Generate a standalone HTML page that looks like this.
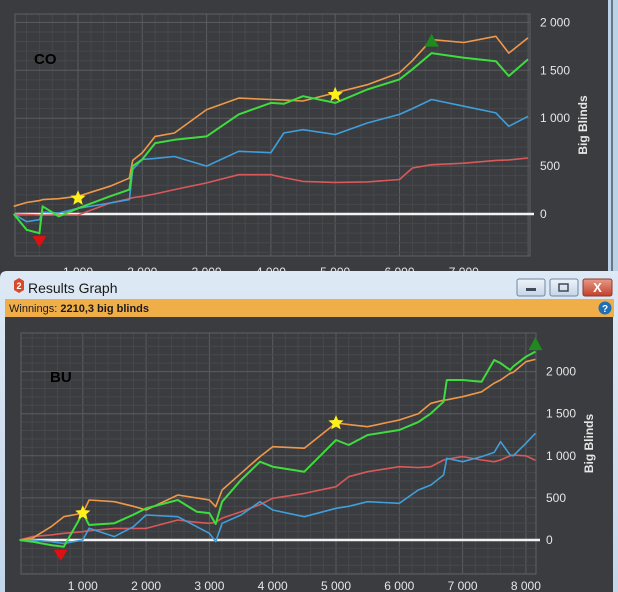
<!DOCTYPE html>
<html><head><meta charset="utf-8"><style>
html,body{margin:0;padding:0;background:#3a3c3f;}
svg{display:block;font-family:"Liberation Sans",sans-serif;}
</style></head><body>
<svg id="s" width="618" height="592" viewBox="0 0 618 592" xmlns="http://www.w3.org/2000/svg">
<defs>
<linearGradient id="tb" x1="0" y1="0" x2="0" y2="1"><stop offset="0" stop-color="#dde9f5"/><stop offset="1" stop-color="#c3d6ea"/></linearGradient>
<linearGradient id="bt" x1="0" y1="0" x2="0" y2="1"><stop offset="0" stop-color="#eef3f9"/><stop offset="1" stop-color="#c7d5e6"/></linearGradient>
<linearGradient id="cl" x1="0" y1="0" x2="0" y2="1"><stop offset="0" stop-color="#e89a88"/><stop offset="1" stop-color="#c2402c"/></linearGradient>
</defs>
<rect x="0" y="0" width="618" height="592" fill="#3a3c3f"/>
<rect x="608" y="0" width="10" height="272" fill="#b9d2ea"/>
<line x1="612" y1="0" x2="612" y2="272" stroke="#1a1a1a" stroke-width="1"/>
<g id="top"></g>
<g>
<path d="M0,278 Q0,271 7,271 L618,271 L618,592 L0,592 Z" fill="url(#tb)"/>
<rect x="5" y="317" width="608" height="275" fill="#3a3c3f"/>
<polygon points="14,281 19,278 24,281 24,290 19,293 14,290" fill="#d9482a"/>
<text x="19" y="289" font-size="9" font-weight="bold" fill="#fff" text-anchor="middle">2</text>
<text x="28" y="293" font-size="14" fill="#1a1a1a">Results Graph</text>
<g><rect x="517" y="279" width="28" height="17" rx="2" fill="url(#bt)" stroke="#6f86a3"/><rect x="526" y="288" width="10" height="3" fill="#3d4a5c"/></g>
<g><rect x="550" y="279" width="28" height="17" rx="2" fill="url(#bt)" stroke="#6f86a3"/><rect x="559" y="284" width="9" height="7" fill="none" stroke="#3d4a5c" stroke-width="1.5"/></g>
<g><rect x="583" y="279" width="29" height="17" rx="2" fill="url(#cl)" stroke="#8a3a2e"/><text x="597.5" y="292" font-size="13" font-weight="bold" fill="#fff" text-anchor="middle">X</text></g>
<rect x="5" y="299" width="609" height="18" fill="#f0ae48"/>
<text x="9" y="312" font-size="11" fill="#1a1a1a">Winnings: <tspan font-weight="bold">2210,3 big blinds</tspan></text>
<g><circle cx="605" cy="308" r="6.5" fill="#1f6fb8"/><text x="605" y="312" font-size="10" font-weight="bold" fill="#fff" text-anchor="middle">?</text></g>
</g>
<g id="bot"></g>
</svg>
<script>
// ---- CO chart data ----
const coHands = [0,200,400,450,700,1000,1500,1800,1850,2000,2200,2500,3000,3500,4000,4200,4500,5000,5500,6000,6200,6500,7000,7500,7700,8000];
const coOrange = [80,120,140,150,160,185,290,375,560,640,810,845,1090,1210,1195,1190,1180,1265,1350,1475,1600,1820,1790,1855,1680,1840];
const coGreen = [0,-165,-200,80,-25,60,185,255,500,570,740,775,810,1040,1160,1150,1230,1160,1300,1405,1510,1680,1630,1595,1440,1615];
const coBlue = [0,-80,-60,20,10,60,115,150,465,570,580,600,500,655,640,845,880,830,950,1040,1100,1195,1125,1055,915,1020];
const coRed = [0,-5,-10,-10,-10,-10,115,160,170,185,210,255,325,410,410,380,340,330,335,360,480,515,530,560,565,585];
const coTicksY = [0,500,1000,1500,2000];
const coTickLabelsY = ["0","500","1 000","1 500","2 000"];
const coTicksX = [1000,2000,3000,4000,5000,6000,7000];
const coTickLabelsX = ["1 000","2 000","3 000","4 000","5 000","6 000","7 000"];
// ---- BU chart data ----
const buHands = [0,200,500,700,1000,1100,1500,1800,2000,2500,2800,3000,3100,3200,3500,3800,4000,4500,5000,5200,5500,6000,6300,6500,6700,6750,7000,7300,7500,7600,7750,7800,8000,8150];
const buOrange = [0,20,158,277,320,475,455,400,356,535,500,475,396,594,792,990,1108,1090,1390,1370,1346,1425,1500,1623,1660,1665,1702,1760,1863,1900,1980,1990,2118,2145];
const buGreen = [0,-20,-60,-80,320,178,200,300,376,475,336,320,190,455,713,930,871,811,1188,1128,1247,1306,1400,1504,1643,1900,1900,1880,2138,2100,2019,2060,2177,2237];
const buBlue = [0,0,-20,-40,0,140,40,158,297,277,158,79,-20,198,297,455,356,277,376,400,455,436,594,653,772,970,930,990,1040,1168,1010,1000,1148,1267];
const buRed = [0,40,60,80,99,110,138,138,138,237,210,198,210,260,336,420,495,554,633,752,811,871,860,871,950,960,990,950,930,950,1000,1010,1000,946];
const buTicksY = [0,500,1000,1500,2000];
const buTickLabelsY = ["0","500","1 000","1 500","2 000"];
const buTicksX = [1000,2000,3000,4000,5000,6000,7000,8000];
const buTickLabelsX = ["1 000","2 000","3 000","4 000","5 000","6 000","7 000","8 000"];

const NS="http://www.w3.org/2000/svg";
function mk(parent,tag,attrs){const e=document.createElementNS(NS,tag);for(const k in attrs)e.setAttribute(k,attrs[k]);parent.appendChild(e);return e;}
function star(cx,cy,r){let p=[];for(let i=0;i<10;i++){const a=-Math.PI/2+i*Math.PI/5;const rr=i%2?r*0.45:r;p.push((cx+rr*Math.cos(a)).toFixed(1)+","+(cy+rr*Math.sin(a)).toFixed(1));}return p.join(" ");}
function nearest(h,arr,hands){let b=0;for(let i=0;i<hands.length;i++){if(Math.abs(hands[i]-h)<Math.abs(hands[b]-h))b=i;}return arr[b];}

function chart(g,cfg){
  const sx=h=>cfg.x0+h*cfg.kx, sy=v=>cfg.y0-v*cfg.ky;
  mk(g,'rect',{x:cfg.L,y:cfg.T,width:cfg.R-cfg.L,height:cfg.B-cfg.T,fill:'#3a3c3f'});
  for(let h=0;h<=cfg.maxH;h+=200){const x=sx(h);if(x<cfg.L||x>cfg.R)continue;mk(g,'line',{x1:x,y1:cfg.T,x2:x,y2:cfg.B,stroke:h%1000?'#46484b':'#5a5c60','stroke-width':1});}
  for(let v=-500;v<=2600;v+=100){const y=sy(v);if(y<cfg.T||y>cfg.B)continue;mk(g,'line',{x1:cfg.L,y1:y,x2:cfg.R,y2:y,stroke:v%500?'#46484b':'#5a5c60','stroke-width':1});}
  const fr=mk(g,'rect',{x:cfg.L,y:cfg.T,width:cfg.R-cfg.L,height:cfg.B-cfg.T,fill:'none',stroke:'#5e6064','stroke-width':1});
  
  
  cfg.ticksY.forEach((v,i)=>{const t=mk(g,'text',{x:cfg.R+10,y:sy(v)+4,'font-size':12,fill:'#e6e6e6'});t.textContent=cfg.labelsY[i];
    
    });
  cfg.ticksX.forEach((h,i)=>{const t=mk(g,'text',{x:sx(h),y:cfg.B+cfg.xlDy,'font-size':12,fill:'#e6e6e6','text-anchor':'middle'});t.textContent=cfg.labelsX[i];
    
    });
  const yt=mk(g,'text',{x:cfg.ytX,y:(cfg.T+cfg.B)/2-10,'font-size':12,'font-weight':'bold',fill:'#e6e6e6','text-anchor':'middle',transform:`rotate(-90 ${cfg.ytX} ${(cfg.T+cfg.B)/2-10})`});
  yt.textContent='Big Blinds';
  
  
  const zl=mk(g,'line',{x1:cfg.L,y1:sy(0),x2:cfg.R+4,y2:sy(0),stroke:'#f2f2f2','stroke-width':2.5});
  
  
  const series=[['red-series',cfg.red,'#d9595a'],['blue-series',cfg.blue,'#3f9fdc'],['orange-series',cfg.orange,'#f0984a'],['green-series',cfg.green,'#3fdc3f']];
  series.forEach(s=>{const pts=cfg.hands.map((h,i)=>sx(h).toFixed(1)+','+sy(s[1][i]).toFixed(1)).join(' ');
    const p=mk(g,'polyline',{points:pts,fill:'none',stroke:s[2],'stroke-width':s[0]==='green-series'?2:1.6,'stroke-linejoin':'round'});
    
    });
  const mn=sy(Math.min(...cfg.green))+3, mh=cfg.minH;
  const tri=mk(g,'polygon',{points:`${sx(mh)-7},${mn} ${sx(mh)+7},${mn} ${sx(mh)},${mn+11}`,fill:'#e01010'});
  
  
  cfg.stars.forEach(h=>{const s=mk(g,'polygon',{points:star(sx(h),sy(nearest(h,cfg.orange,cfg.hands))+(cfg.starDy||0),8),fill:'#ffef1a'});
    
    });
  const mxh=cfg.maxMarkH, my=sy(nearest(mxh,cfg.green,cfg.hands)+cfg.maxDv);
  const up=mk(g,'polygon',{points:`${sx(mxh)-7},${my+6} ${sx(mxh)+7},${my+6} ${sx(mxh)},${my-7}`,fill:'#1f8a1f'});
  
  
  const lb=mk(g,'text',{x:cfg.lblX,y:cfg.lblY,'font-size':15,'font-weight':'bold',fill:'#000'});
  lb.textContent=cfg.label;
  
  
}
chart(document.getElementById('top'),{L:15,R:530,T:14,B:256,x0:13.7,kx:0.0643,y0:214,ky:0.0958,maxH:8000,xlDy:20,
  hands:coHands,orange:coOrange,green:coGreen,blue:coBlue,red:coRed,ticksY:coTicksY,labelsY:coTickLabelsY,ticksX:coTicksX,labelsX:coTickLabelsX,
  ytX:587,minH:400,stars:[1000,5000],starDy:2,maxMarkH:6500,maxDv:130,label:'CO',lblX:34,lblY:64});
chart(document.getElementById('bot'),{L:21,R:536,T:333,B:574,x0:19.5,kx:0.0633,y0:540,ky:0.0842,maxH:8150,xlDy:16,
  hands:buHands,orange:buOrange,green:buGreen,blue:buBlue,red:buRed,ticksY:buTicksY,labelsY:buTickLabelsY,ticksX:buTicksX,labelsX:buTickLabelsX,
  ytX:593,minH:650,stars:[1000,5000],starDy:0,maxMarkH:8150,maxDv:90,label:'BU',lblX:50,lblY:382});
</script>
</body></html>
